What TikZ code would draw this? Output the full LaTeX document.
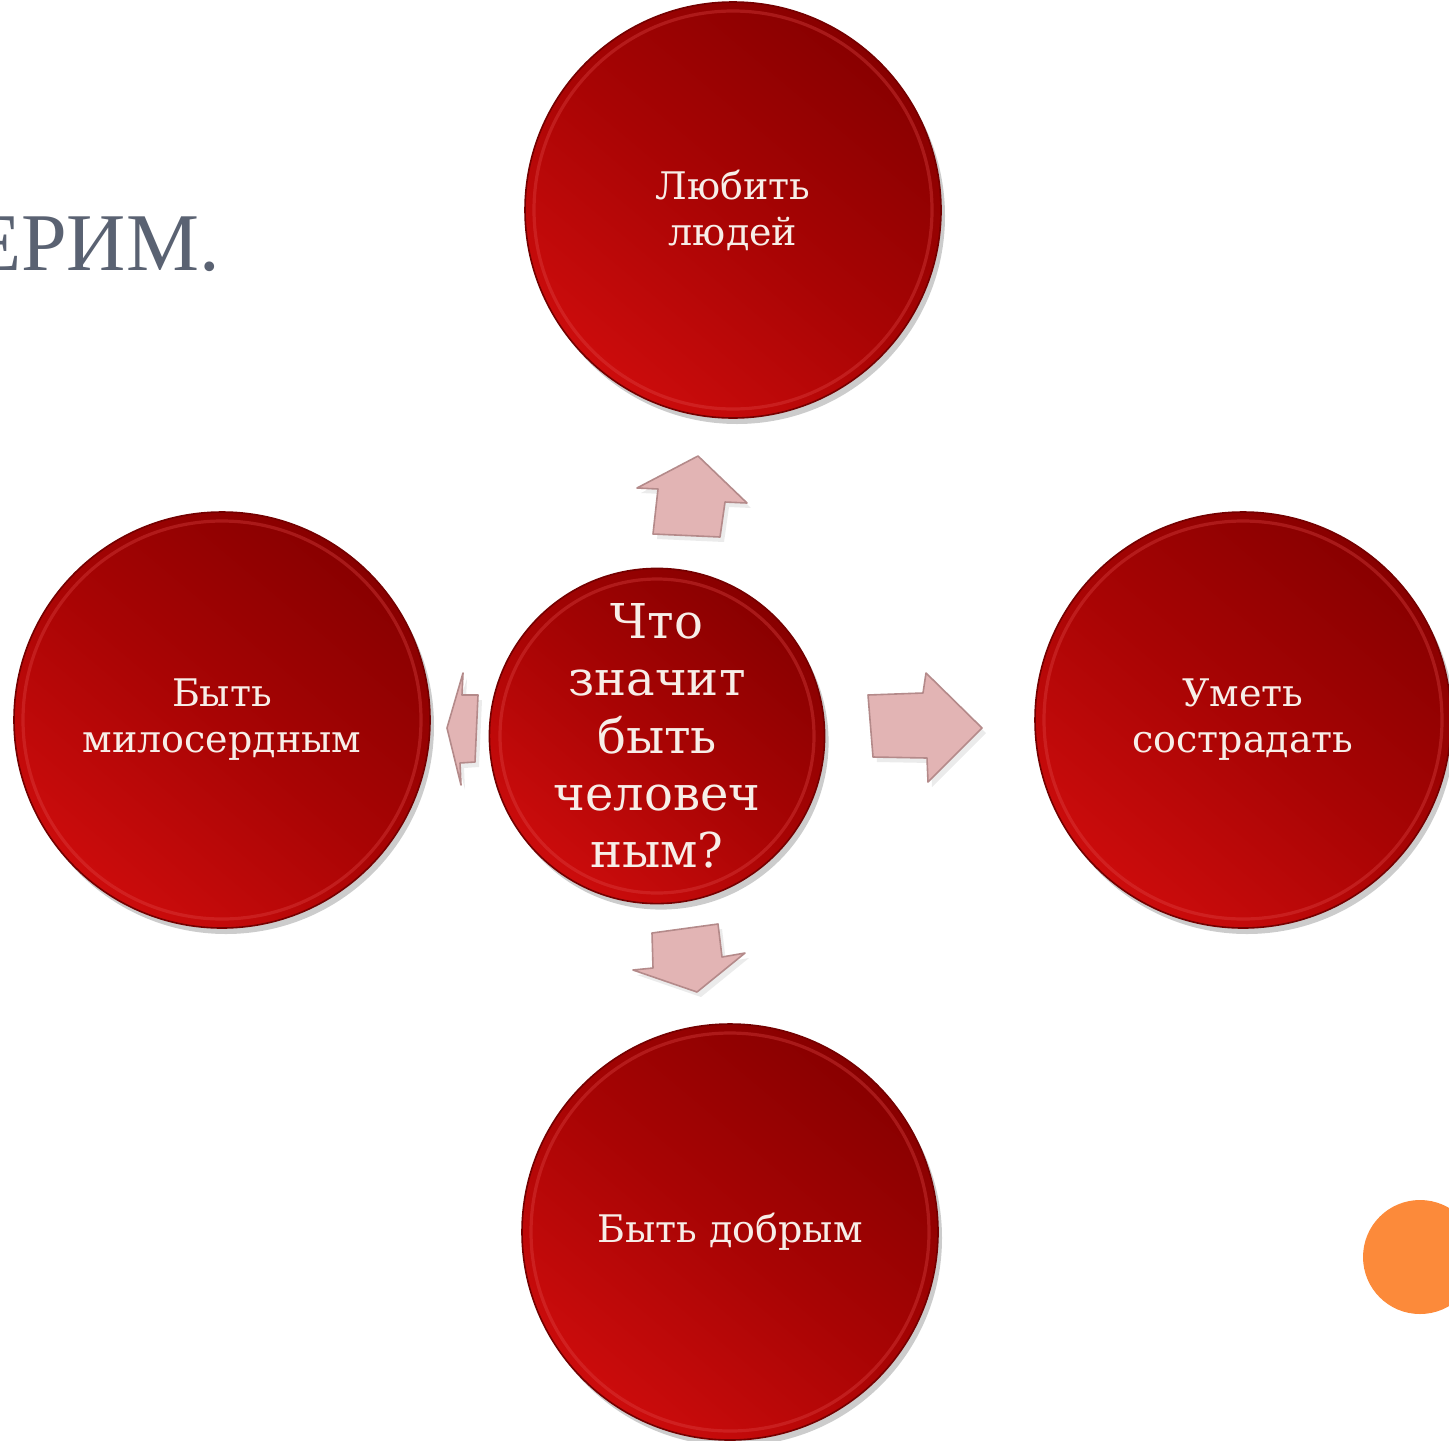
\documentclass[tikz,border=0pt]{standalone}
\usepackage{fontspec}
\setmainfont{DejaVu Serif}
\newfontfamily\titlefont{Liberation Serif}
\usetikzlibrary{shadows}
\definecolor{darkred}{HTML}{880000}
\definecolor{midred}{HTML}{A80404}
\definecolor{brightred}{HTML}{CC0C0C}
\definecolor{rimred}{HTML}{E04848}
\definecolor{pinkfill}{HTML}{E2B4B4}
\definecolor{pinkline}{HTML}{B48A8A}
\definecolor{titlegray}{HTML}{5A6272}
\definecolor{orangedot}{HTML}{FC8A3A}
\definecolor{textwhite}{HTML}{F7EEE8}
\begin{document}
\begin{tikzpicture}[x=0.5pt,y=-0.5pt,
  bubble/.style={circle, inner sep=0pt, top color=darkred, bottom color=brightred,
    middle color=midred, shading angle=-40, draw=darkred!85!black, line width=0.8pt,
    text=textwhite, align=center,
    drop shadow={shadow xshift=2pt, shadow yshift=-3pt, opacity=0.2, fill=black}},
  bigbubble/.style={bubble, minimum size=208pt, font=\fontsize{19pt}{23pt}\selectfont},
  centrebubble/.style={bubble, minimum size=165pt, font=\fontsize{24pt}{28.6pt}\selectfont},
  rim/.style={draw=rimred, opacity=0.35, line width=1.6pt},
  blockarrow/.style={fill=pinkfill, draw=pinkline, line width=0.8pt, line join=round},
  arrowshadow/.style={fill=black, opacity=0.08},
]
\useasboundingbox (0,0) rectangle (1449,1440);
\clip (0,0) rectangle (1449,1440);
\fill[white] (0,0) rectangle (1449,1440);

% title fragment
\node[anchor=base east, inner sep=0pt, text=titlegray,
  font=\titlefont\fontsize{41pt}{41pt}\selectfont] (title) at (220,270) {ЕРИМ.};

% orange dot
\fill[orangedot] (1420,1257) circle (57);

% circles
\node[bigbubble] (top) at (733,210) {Любить\\людей};
\node[bigbubble] (left) at (222,720) {Быть\\милосердным};
\node[bigbubble] (right) at (1243,720) {Уметь\\сострадать};
\node[bigbubble] (bottom) at (730,1232) {Быть добрым};
\node[centrebubble] (centre) at (657,736) {Что\\значит\\быть\\человеч\\ным?};

\foreach \n in {top,left,right,bottom}{
  \draw[rim] (\n.center) circle[radius=99.5pt];
}
\draw[rim] (centre.center) circle[radius=78.5pt];

% block arrows
\fill[arrowshadow] (701,461) -- (751,508) -- (729,507) -- (724,542) -- (657,539) -- (662,494) -- (641,493) -- cycle;
\fill[arrowshadow] (872,700) -- (927,698) -- (930,678) -- (986,733) -- (932,787) -- (931,763) -- (877,762) -- cycle;
\fill[arrowshadow] (656,938) -- (722,929) -- (726,962) -- (749,958) -- (701,997) -- (637,975) -- (657,973) -- cycle;
\fill[arrowshadow] (451,733) -- (467,678) -- (466,700) -- (482,700) -- (479,767) -- (464,768) -- (465,790) -- cycle;

\draw[blockarrow] (698,456) -- (747,503) -- (725,502) -- (720,537) -- (653,534) -- (658,489) -- (637,488) -- cycle;
\draw[blockarrow] (868,695) -- (923,693) -- (926,673) -- (982,728) -- (928,782) -- (927,758) -- (873,757) -- cycle;
\draw[blockarrow] (652,933) -- (718,924) -- (722,957) -- (745,953) -- (697,992) -- (633,970) -- (653,968) -- cycle;
\draw[blockarrow] (447,728) -- (463,673) -- (462,695) -- (478,695) -- (475,762) -- (460,763) -- (461,785) -- cycle;
\end{tikzpicture}
\end{document}
